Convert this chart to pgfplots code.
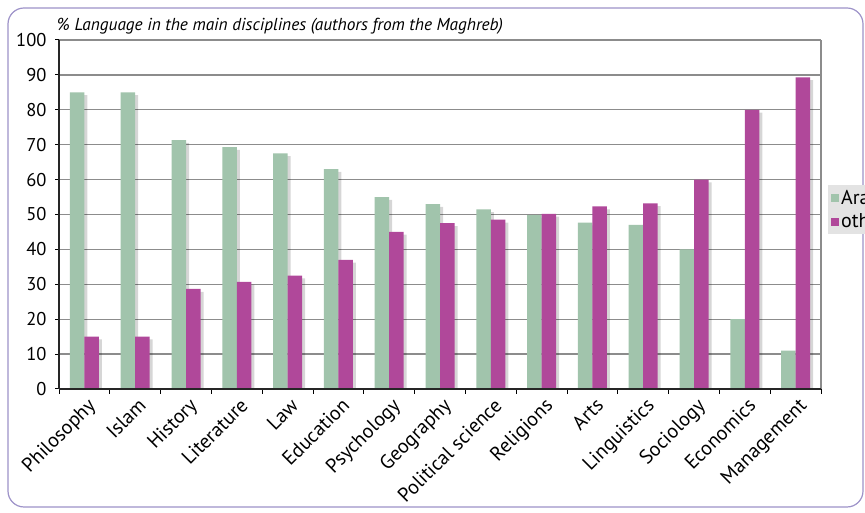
\documentclass[border=0pt]{standalone}
\usepackage{pgfplots}
\pgfplotsset{compat=1.18}
\usepackage{fontspec}
\setmainfont{PT Sans}
\definecolor{arab}{HTML}{A1C4AC}
\definecolor{oth}{HTML}{B0489A}
\definecolor{gridc}{HTML}{8C8C8C}
\definecolor{frame}{HTML}{9E93C9}
\definecolor{legbg}{HTML}{E3E3E3}
\begin{document}
\begin{tikzpicture}[x=1pt,y=1pt]
\useasboundingbox (0,0) rectangle (865,513);
\clip (0,0) rectangle (865,513);
\fill[white] (0,0) rectangle (865,513);
\draw[frame, line width=1.2pt, rounded corners=16pt] (8,6) rectangle (863,505);
\node[anchor=base west, font=\fontsize{17.3}{19}\selectfont\itshape, inner sep=0pt] at (57,482) {\% Language in the main disciplines (authors from the Maghreb)};
\begin{axis}[
  at={(59pt,124pt)}, anchor=south west,
  scale only axis, width=762pt, height=349pt,
  xmin=-0.5, xmax=14.5, ymin=0, ymax=100,
  ytick={0,10,...,100},
  xtick={0,...,14},
  xticklabels={Philosophy,Islam,History,Literature,Law,Education,Psychology,Geography,Political science,Religions,Arts,Linguistics,Sociology,Economics,Management},
  minor xtick={-0.5,0.5,...,14.5},
  xtick pos=bottom, ytick pos=left,
  major x tick style={draw=none},
  minor x tick style={black, line width=1pt},
  y tick style={black, line width=1pt},
  tick align=outside,
  major tick length=4pt, minor tick length=5pt,
  ymajorgrids, grid style={gridc, line width=1.3pt},
  axis line style={draw=none},
  /pgf/number format/assume math mode=true,
  xticklabel style={font=\fontsize{20}{22}\selectfont, rotate=45, anchor=north east, inner sep=1pt, yshift=-3pt},
  yticklabel style={font=\fontsize{18.5}{21}\selectfont, xshift=-5pt},
  ybar, bar width=14.5pt,
  legend style={at={(1.009,0.5845)}, anchor=north west, fill=legbg, draw=none,
    font=\fontsize{20}{22}\selectfont, inner xsep=3pt, inner ysep=3pt, row sep=4pt,
    legend cell align=left},
  legend image code/.code={\fill[#1] (0pt,-4pt) rectangle (8pt,4pt);},
  clip=false,
]
% shadows
\addplot[draw=none, fill=black, fill opacity=0.16, bar shift=-4.25pt, forget plot] coordinates {
(0,84.2) (1,84.2) (2,70.5) (3,68.5) (4,66.7) (5,62.2) (6,54.2) (7,52.2) (8,50.7) (9,49) (10,46.9) (11,46.2) (12,39.2) (13,19.2) (14,10.2)};
\addplot[draw=none, fill=black, fill opacity=0.16, bar shift=10.25pt, forget plot] coordinates {
(0,14.2) (1,14.2) (2,27.8) (3,29.9) (4,31.7) (5,36.2) (6,44.2) (7,46.7) (8,47.7) (9,49.4) (10,51.5) (11,52.4) (12,59.2) (13,79.2) (14,88.5)};
% data
\addplot[draw=none, fill=arab, bar shift=-7.25pt] coordinates {
(0,85) (1,85) (2,71.3) (3,69.3) (4,67.5) (5,63) (6,55) (7,53) (8,51.5) (9,49.8) (10,47.7) (11,47) (12,40) (13,20) (14,11)};
\addplot[draw=none, fill=oth, bar shift=7.25pt] coordinates {
(0,15) (1,15) (2,28.7) (3,30.7) (4,32.5) (5,37) (6,45) (7,47.5) (8,48.5) (9,50.2) (10,52.3) (11,53.2) (12,60) (13,80) (14,89.3)};
\legend{Arabic, other}
\draw[gridc, line width=1.3pt] (rel axis cs:1,0) -- (rel axis cs:1,1);
\draw[gridc, line width=1.3pt] (rel axis cs:0,1) -- (rel axis cs:1,1);
\draw[black!85, line width=2pt] (rel axis cs:0,0) -- (rel axis cs:1,0);
\draw[black!85, line width=2pt] (rel axis cs:0,0) -- (rel axis cs:0,1);
\end{axis}
\end{tikzpicture}
\end{document}
